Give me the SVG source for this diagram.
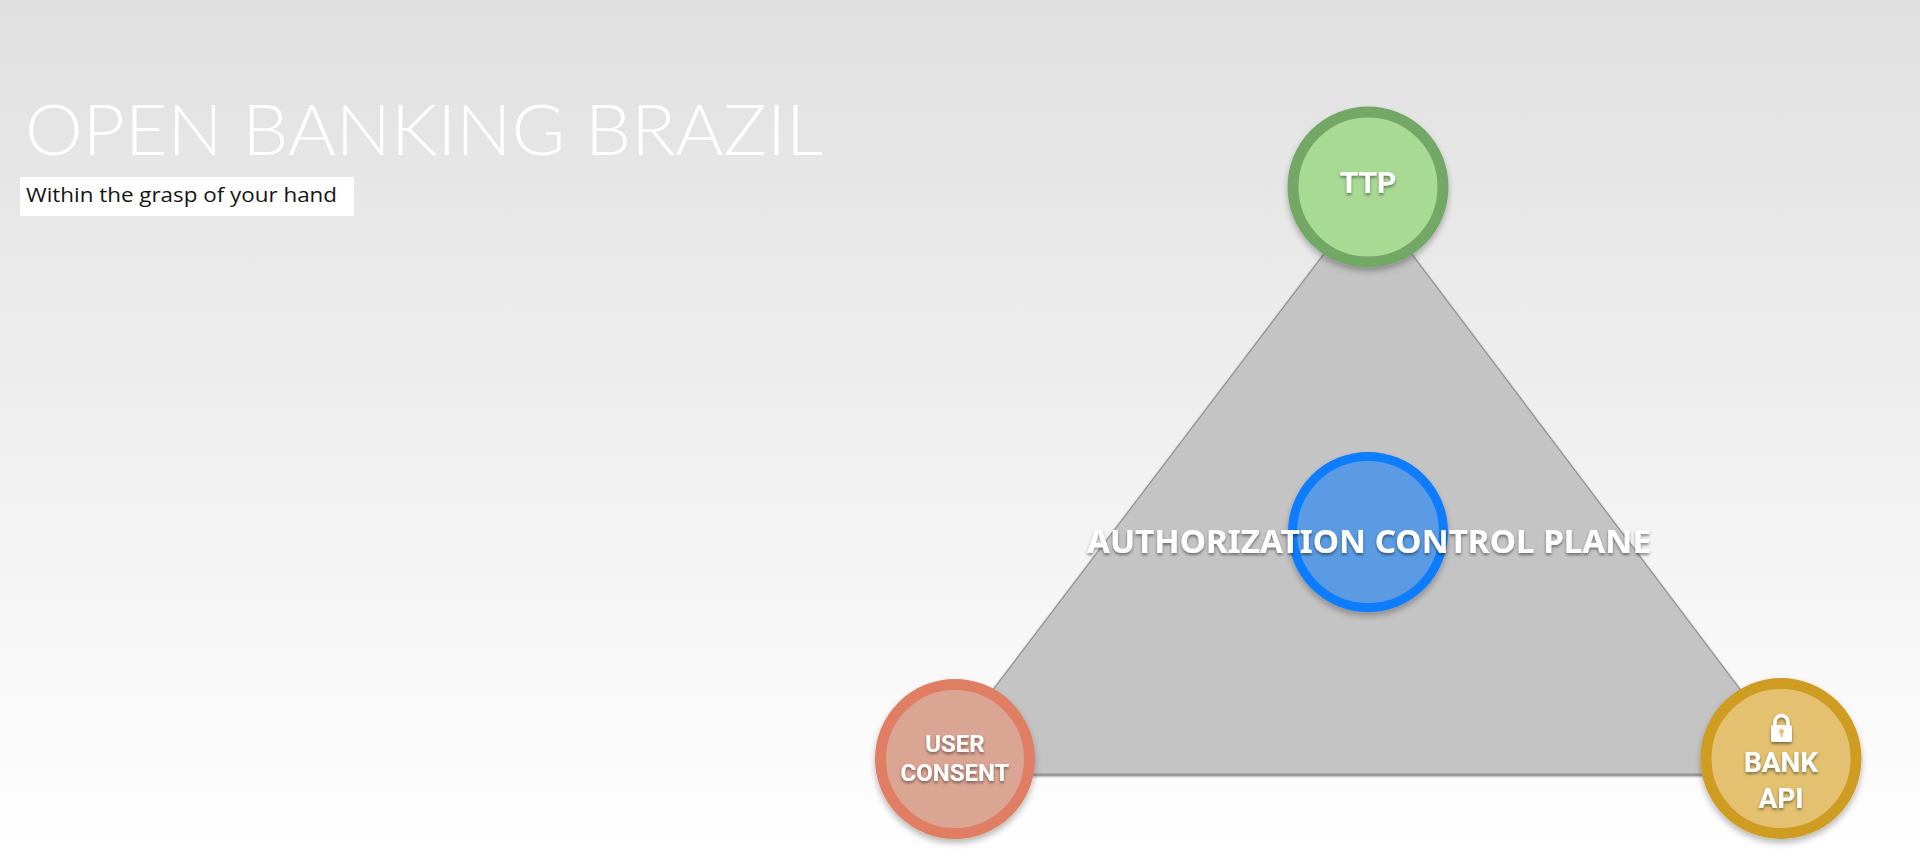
<svg xmlns="http://www.w3.org/2000/svg" width="1920" height="854" viewBox="0 0 1920 854">
  <defs>
    <linearGradient id="bg" x1="0" y1="0" x2="0" y2="1">
      <stop offset="0" stop-color="#e0e0e0"/>
      <stop offset="1" stop-color="#ffffff"/>
    </linearGradient>
    <filter id="triShadow" x="-10%" y="-10%" width="120%" height="120%">
      <feDropShadow dx="0" dy="1.5" stdDeviation="1.3" flood-color="#000" flood-opacity="0.6"/>
    </filter>
    <filter id="circleShadow" x="-20%" y="-20%" width="140%" height="140%">
      <feDropShadow dx="0" dy="4" stdDeviation="3" flood-color="#000" flood-opacity="0.28"/>
    </filter>
    <filter id="textShadow" x="-10%" y="-30%" width="120%" height="160%">
      <feDropShadow dx="0" dy="2" stdDeviation="1.5" flood-color="#000" flood-opacity="0.45"/>
    </filter>
  </defs>
  <style>
    .title { font-family: "Lato", "Liberation Sans", sans-serif; font-weight: 300; font-size: 70px; fill: #ffffff; }
    .sub { font-family: "Open Sans", "Liberation Sans", sans-serif; font-size: 20px; fill: #151515; }
    .node circle { stroke-width: 11; filter: url(#circleShadow); }
    .label { font-family: "Roboto", "Liberation Sans", sans-serif; font-weight: 700; fill: #ffffff; text-anchor: middle; filter: url(#textShadow); }
    .plane-label { font-family: "Noto Sans", "Open Sans", sans-serif; font-weight: 700; font-size: 33px; fill: #ffffff; text-anchor: middle; filter: url(#textShadow); }
  </style>

  <rect x="0" y="0" width="1920" height="854" fill="url(#bg)"/>

  <g id="header">
    <text class="title" x="25" y="155" textLength="798" lengthAdjust="spacingAndGlyphs">OPEN BANKING BRAZIL</text>
    <rect x="20" y="177" width="334" height="39" fill="#ffffff"/>
    <text class="sub" x="26" y="202" textLength="311" lengthAdjust="spacingAndGlyphs">Within the grasp of your hand</text>
  </g>

  <g id="connectors">
    <polygon points="1368,196 929,774 1804,774" fill="#c4c4c4" stroke="#929292" stroke-width="1.2" stroke-linejoin="round" filter="url(#triShadow)"/>
  </g>

  <g id="authorization-control-plane" class="node">
    <circle cx="1368" cy="532" r="75.5" fill="#5a9be3" stroke="#0a7cff" style="stroke-width:9"/>
    <text class="plane-label" x="1369" y="553" textLength="564" lengthAdjust="spacingAndGlyphs">AUTHORIZATION CONTROL PLANE</text>
  </g>

  <g id="ttp" class="node">
    <circle cx="1368" cy="187" r="75" fill="#a8da94" stroke="#72a765"/>
    <text class="label" x="1368" y="193" font-size="30">TTP</text>
  </g>

  <g id="user-consent" class="node">
    <circle cx="955" cy="759" r="74.5" fill="#dba594" stroke="#e07e63"/>
    <text class="label" x="955" y="752" font-size="24">USER</text>
    <text class="label" x="955" y="781" font-size="24">CONSENT</text>
  </g>

  <g id="bank-api" class="node">
    <circle cx="1781" cy="758.5" r="75" fill="#e3c170" stroke="#cf9c22"/>
    <g id="lock-icon" filter="url(#textShadow)">
      <path d="M1775,726 v-4 a6.5,6.5 0 0 1 13,0 v4" fill="none" stroke="#ffffff" stroke-width="3.5"/>
      <rect x="1771" y="725" width="21" height="17" rx="2.5" fill="#ffffff"/>
      <circle cx="1781.5" cy="731.5" r="2.4" fill="#e3c170"/>
      <rect x="1780.5" y="732" width="2" height="5" fill="#e3c170"/>
    </g>
    <text class="label" x="1781" y="772" font-size="28">BANK</text>
    <text class="label" x="1781" y="808" font-size="28">API</text>
  </g>
</svg>
